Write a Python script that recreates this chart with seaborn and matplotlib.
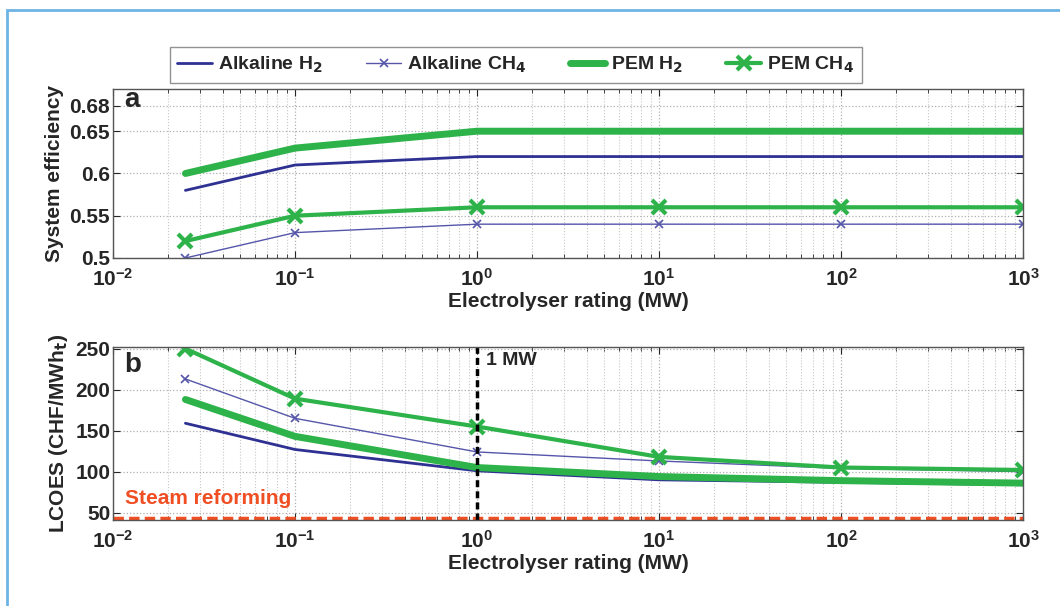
import numpy as np
import pandas as pd
import matplotlib
matplotlib.use("Agg")
import matplotlib.pyplot as plt
from matplotlib.patches import Rectangle
import seaborn as sns

# electrolyser ratings (MW)
rating = [0.025, 0.1, 1, 10, 100, 1000]

# panel a: system efficiency
eff_alk_h2 = [0.58, 0.61, 0.62, 0.62, 0.62, 0.62]
eff_alk_ch4 = [0.50, 0.53, 0.54, 0.54, 0.54, 0.54]
eff_pem_h2 = [0.60, 0.63, 0.65, 0.65, 0.65, 0.65]
eff_pem_ch4 = [0.52, 0.55, 0.56, 0.56, 0.56, 0.56]

# panel b: LCOES (CHF/MWh_t)
lcoes_alk_h2 = [159, 127, 101, 90, 87, 84]
lcoes_alk_ch4 = [213, 165, 124, 113, 104, 100]
lcoes_pem_h2 = [188, 143, 105, 94, 89, 86]
lcoes_pem_ch4 = [250, 189, 155, 118, 105, 102]
steam_reforming = 43

series = ["Alkaline H$_\\mathbf{2}$", "Alkaline CH$_\\mathbf{4}$",
          "PEM H$_\\mathbf{2}$", "PEM CH$_\\mathbf{4}$"]
styles = {
    series[0]: dict(color="#2e3192", lw=2.0, marker=None, ms=0, mew=0),
    series[1]: dict(color="#5555aa", lw=1.0, marker="x", ms=6, mew=1.2),
    series[2]: dict(color="#2db34a", lw=5.0, marker=None, ms=0, mew=0),
    series[3]: dict(color="#2db34a", lw=3.0, marker="x", ms=10, mew=3),
}

eff = pd.DataFrame({"rating": rating * 4,
                    "value": eff_alk_h2 + eff_alk_ch4 + eff_pem_h2 + eff_pem_ch4,
                    "series": np.repeat(series, len(rating))})
lcoes = pd.DataFrame({"rating": rating * 4,
                      "value": lcoes_alk_h2 + lcoes_alk_ch4 + lcoes_pem_h2 + lcoes_pem_ch4,
                      "series": np.repeat(series, len(rating))})

sns.set_style("white")
plt.rcParams["font.family"] = ["Liberation Sans", "DejaVu Sans"]
plt.rcParams["font.weight"] = "bold"
plt.rcParams["mathtext.default"] = "bf"

fig = plt.figure(figsize=(10.6, 6.06), dpi=100)
ax_a = fig.add_axes([0.1066, 0.5743, 0.8585, 0.2789])
ax_b = fig.add_axes([0.1066, 0.1419, 0.8585, 0.2855])


def draw(ax, df):
    for s in series:
        st = styles[s]
        sns.lineplot(data=df[df["series"] == s], x="rating", y="value", ax=ax,
                     color=st["color"], linewidth=st["lw"], marker=st["marker"],
                     markersize=st["ms"], markeredgewidth=st["mew"],
                     markeredgecolor=st["color"], label=s, legend=False)


def style_axes(ax):
    ax.set_xscale("log")
    ax.set_xlim(1e-2, 1e3)
    ax.set_xticks([1e-2, 1e-1, 1e0, 1e1, 1e2, 1e3])
    ax.grid(True, which="major", color="#b0b0b0", linestyle=":", linewidth=0.9)
    ax.grid(True, which="minor", axis="x", color="#c8c8c8", linestyle=":", linewidth=0.8)
    ax.tick_params(which="both", direction="in", top=True, right=True,
                   labelsize=15, bottom=True, left=True)
    ax.tick_params(which="major", length=5)
    ax.tick_params(which="minor", length=3)
    ax.tick_params(axis="x", which="major", pad=7)
    ax.tick_params(axis="y", which="major", pad=2)
    for sp in ax.spines.values():
        sp.set_color("#555555")
        sp.set_linewidth(1.0)
    ax.set_xlabel("Electrolyser rating (MW)", fontsize=15, fontweight="bold", labelpad=2)


draw(ax_a, eff)
style_axes(ax_a)
ax_a.set_ylim(0.5, 0.70)
ax_a.set_yticks([0.5, 0.55, 0.6, 0.65, 0.68])
ax_a.set_yticklabels(["0.5", "0.55", "0.6", "0.65", "0.68"])
ax_a.set_ylabel("System efficiency", fontsize=15, fontweight="bold", labelpad=4)
ax_a.text(0.0115, 0.687, "a", fontsize=20, fontweight="bold", va="center", ha="left")

draw(ax_b, lcoes)
ax_b.axhline(steam_reforming, color="#f04e23", linestyle="--", linewidth=2.5, dashes=(3, 1.5))
ax_b.axvline(1, color="black", linestyle="--", linewidth=2.5, dashes=(2, 1.2))
style_axes(ax_b)
ax_b.set_ylim(41, 252)
ax_b.set_yticks([50, 100, 150, 200, 250])
ax_b.set_ylabel("LCOES (CHF/MWh$_\\mathbf{t}$)", fontsize=15, fontweight="bold", labelpad=4)
ax_b.text(0.0115, 230, "b", fontsize=20, fontweight="bold", va="center", ha="left")
ax_b.text(1.12, 235, "1 MW", fontsize=14, fontweight="bold", va="center", ha="left")
ax_b.text(0.0117, 67, "Steam reforming", fontsize=15, fontweight="bold",
          color="#f04e23", va="center", ha="left")
for lab in ax_a.get_xticklabels() + ax_a.get_yticklabels() + ax_b.get_xticklabels() + ax_b.get_yticklabels():
    lab.set_fontweight("bold")

handles, labels = ax_a.get_legend_handles_labels()
fig.legend(handles, labels, loc="lower left", ncol=4, mode="expand",
           bbox_to_anchor=(0.160, 0.863, 0.653, 0.084), frameon=True,
           fancybox=False, edgecolor="#777777", handlelength=1.8,
           handletextpad=0.3, borderaxespad=0.0, columnspacing=1.0,
           prop={"weight": "bold", "size": 14})

# light blue panel frame (top and left edges)
fig.add_artist(Rectangle((0.007, -0.1), 1.2, 1.083, transform=fig.transFigure,
                         fill=False, edgecolor="#6cb4e4", linewidth=2.0))

fig.savefig("out.png", dpi=100)
